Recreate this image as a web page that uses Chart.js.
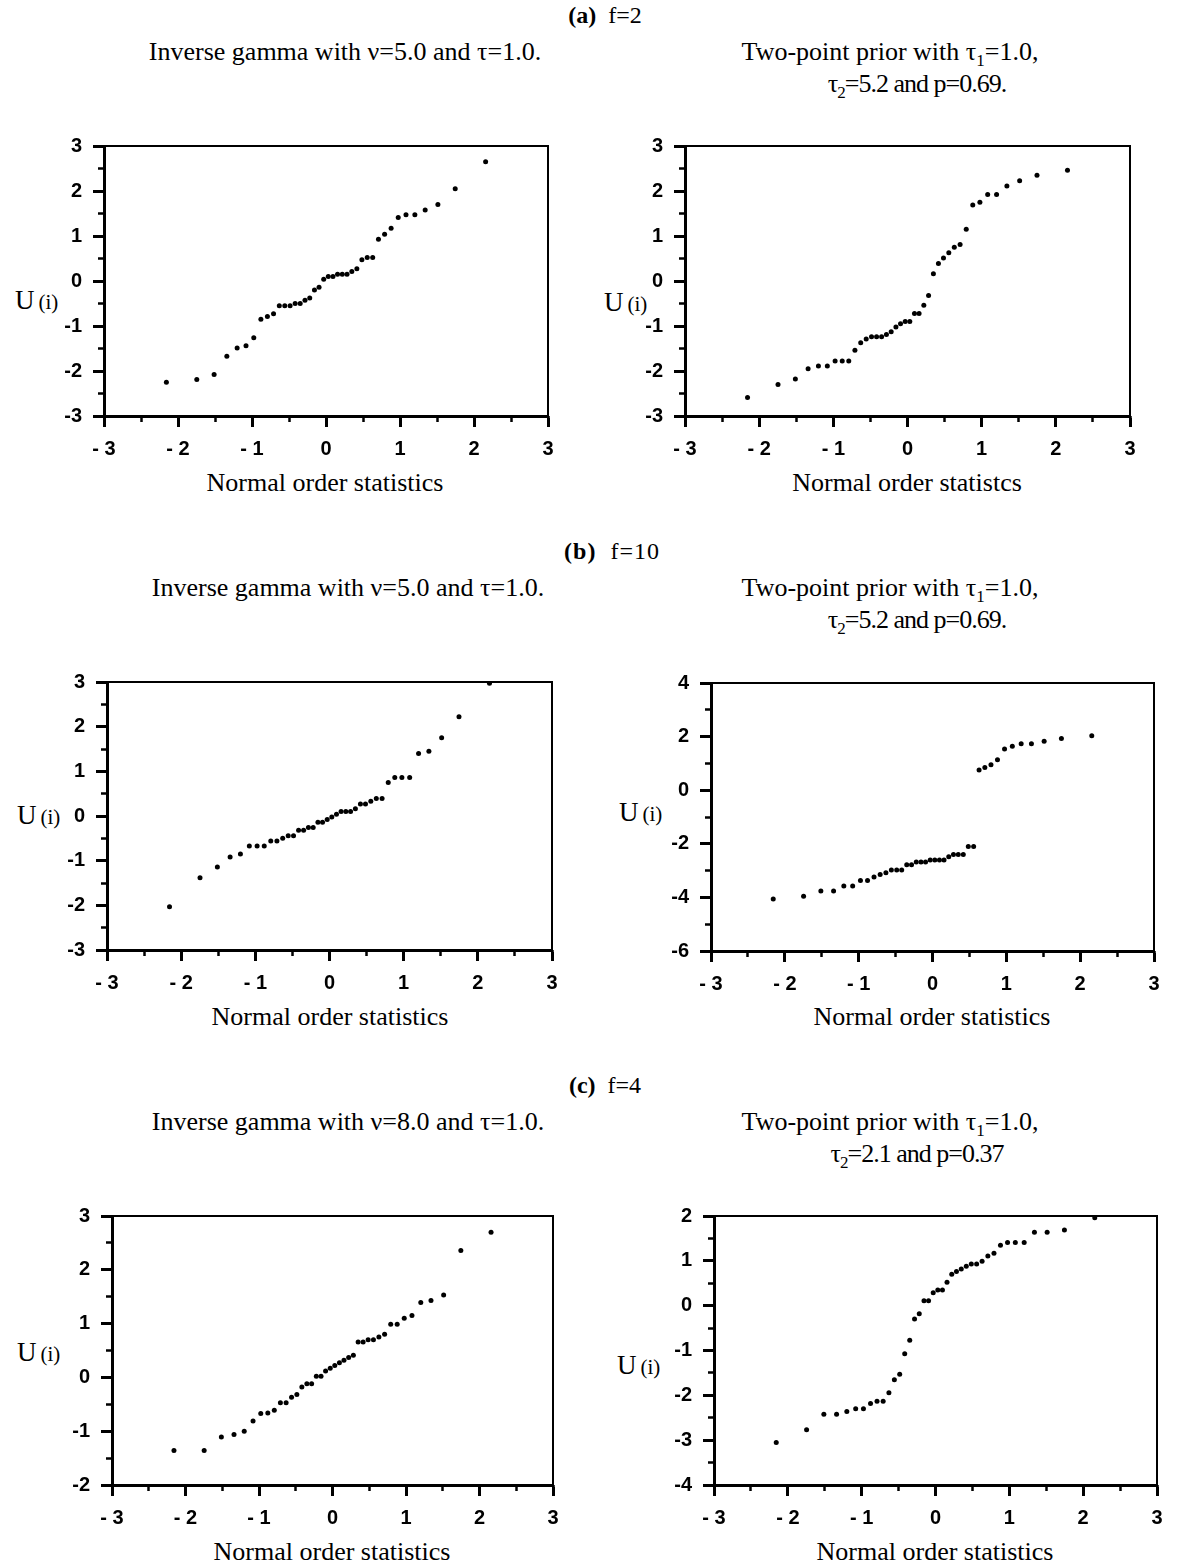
<!DOCTYPE html>
<html><head><meta charset="utf-8">
<script src="https://cdn.jsdelivr.net/npm/chart.js@4.4.1/dist/chart.umd.min.js"></script>
<style>
html,body{margin:0;padding:0;background:#fff;}
body{width:1178px;height:1568px;position:relative;overflow:hidden;}
.t{position:absolute;font-family:"Liberation Serif","Times New Roman",serif;color:#000;white-space:nowrap;font-size:26px;line-height:1;transform:translate(-50%,-50%);}
.t b{font-weight:bold;}
.t sub{font-size:17px;vertical-align:-6px;line-height:0;}
.h{font-size:24px;}
.u{position:absolute;font-family:"Liberation Serif","Times New Roman",serif;color:#000;white-space:nowrap;line-height:1;transform:translate(0,-50%);}
.u .U{font-size:27px;}
.u .i{font-size:21px;}
canvas{position:absolute;}
</style></head><body>

<div class="t h" style="left:605px;top:15px;"><b>(a)</b>&nbsp; f=2</div>
<div class="t" style="left:345px;top:52px;">Inverse gamma with ν=5.0 and τ=1.0.</div>
<div class="t" style="left:890px;top:52px;">Two-point prior with τ<sub>1</sub>=1.0,</div>
<div class="t" style="left:917px;top:84px;letter-spacing:-1px;">τ<sub>2</sub>=5.2 and p=0.69.</div>

<div class="t h" style="left:612px;top:551px;letter-spacing:1px;"><b>(b)</b>&nbsp; f=10</div>
<div class="t" style="left:348px;top:588px;">Inverse gamma with ν=5.0 and τ=1.0.</div>
<div class="t" style="left:890px;top:588px;">Two-point prior with τ<sub>1</sub>=1.0,</div>
<div class="t" style="left:917px;top:620px;letter-spacing:-1px;">τ<sub>2</sub>=5.2 and p=0.69.</div>

<div class="t h" style="left:605px;top:1085px;"><b>(c)</b>&nbsp; f=4</div>
<div class="t" style="left:348px;top:1122px;">Inverse gamma with ν=8.0 and τ=1.0.</div>
<div class="t" style="left:890px;top:1122px;">Two-point prior with τ<sub>1</sub>=1.0,</div>
<div class="t" style="left:917px;top:1154px;letter-spacing:-1px;">τ<sub>2</sub>=2.1 and p=0.37</div>

<div class="t" style="left:325px;top:483px;">Normal order statistics</div>
<div class="t" style="left:907px;top:483px;">Normal order statistcs</div>
<div class="t" style="left:330px;top:1017px;">Normal order statistics</div>
<div class="t" style="left:932px;top:1017px;">Normal order statistics</div>
<div class="t" style="left:332px;top:1552px;">Normal order statistics</div>
<div class="t" style="left:935px;top:1552px;">Normal order statistics</div>

<div class="u" style="left:15px;top:300px;"><span class="U">U</span> <span class="i">(i)</span></div>
<div class="u" style="left:604px;top:302px;"><span class="U">U</span> <span class="i">(i)</span></div>
<div class="u" style="left:17px;top:815px;"><span class="U">U</span> <span class="i">(i)</span></div>
<div class="u" style="left:619px;top:812px;"><span class="U">U</span> <span class="i">(i)</span></div>
<div class="u" style="left:17px;top:1352px;"><span class="U">U</span> <span class="i">(i)</span></div>
<div class="u" style="left:617px;top:1365px;"><span class="U">U</span> <span class="i">(i)</span></div>

<script>
// Normal order statistics (n = 40) shared by all six panels
const normalScores = [-2.157,-1.746,-1.512,-1.340,-1.201,-1.081,-0.976,-0.880,-0.792,-0.709,
  -0.631,-0.557,-0.485,-0.417,-0.349,-0.284,-0.220,-0.156,-0.094,-0.031,
  0.031,0.094,0.156,0.220,0.284,0.349,0.417,0.485,0.557,0.631,
  0.709,0.792,0.880,0.976,1.081,1.201,1.340,1.512,1.746,2.157];

// (a) f=2
const uA_gamma = [-2.25,-2.19,-2.08,-1.67,-1.49,-1.44,-1.26,-0.85,-0.79,-0.73,
  -0.55,-0.55,-0.55,-0.50,-0.50,-0.43,-0.38,-0.20,-0.14,0.04,
  0.10,0.10,0.15,0.15,0.15,0.21,0.27,0.47,0.52,0.52,
  0.93,1.04,1.17,1.41,1.47,1.47,1.58,1.70,2.05,2.65];
const uA_two = [-2.59,-2.30,-2.18,-1.95,-1.89,-1.89,-1.78,-1.78,-1.78,-1.54,
  -1.37,-1.29,-1.24,-1.24,-1.24,-1.19,-1.13,-1.02,-0.95,-0.90,
  -0.90,-0.72,-0.72,-0.54,-0.32,0.16,0.39,0.51,0.63,0.75,
  0.81,1.15,1.69,1.75,1.92,1.92,2.11,2.23,2.35,2.46];

// (b) f=10
const uB_gamma = [-2.03,-1.38,-1.14,-0.92,-0.85,-0.67,-0.67,-0.67,-0.56,-0.56,
  -0.50,-0.44,-0.44,-0.32,-0.32,-0.26,-0.26,-0.14,-0.14,-0.08,
  -0.02,0.04,0.10,0.10,0.10,0.16,0.27,0.27,0.33,0.39,
  0.39,0.75,0.86,0.86,0.86,1.40,1.45,1.75,2.22,2.97];
const uB_two = [-4.06,-3.96,-3.76,-3.76,-3.57,-3.57,-3.37,-3.37,-3.24,-3.15,
  -3.08,-2.98,-2.98,-2.98,-2.78,-2.78,-2.68,-2.68,-2.68,-2.60,
  -2.60,-2.60,-2.60,-2.48,-2.40,-2.40,-2.40,-2.10,-2.10,0.75,
  0.85,0.95,1.14,1.54,1.64,1.73,1.73,1.83,1.93,2.03];

// (c) f=4
const uC_gamma = [-1.36,-1.36,-1.11,-1.06,-1.00,-0.81,-0.67,-0.66,-0.61,-0.47,
  -0.47,-0.37,-0.32,-0.18,-0.12,-0.12,0.02,0.02,0.12,0.17,
  0.22,0.27,0.32,0.37,0.41,0.66,0.66,0.70,0.70,0.75,
  0.80,0.99,0.99,1.10,1.15,1.39,1.43,1.53,2.36,2.70];
const uC_two = [-3.05,-2.77,-2.42,-2.42,-2.36,-2.30,-2.30,-2.18,-2.13,-2.13,
  -1.94,-1.65,-1.53,-1.07,-0.77,-0.30,-0.18,0.11,0.11,0.29,
  0.35,0.35,0.52,0.70,0.76,0.82,0.88,0.93,0.93,0.99,
  1.11,1.17,1.35,1.41,1.41,1.41,1.64,1.64,1.69,1.96];

// axis ranges
const xRange = [-3, 3];
const yRangeA = [-3, 3];
const yRangeB1 = [-3, 3];
const yRangeB2 = [-6, 4];
const yRangeC1 = [-2, 3];
const yRangeC2 = [-4, 2];

// ---------- drawing ----------
const PADL = 80, PADR = 20, PADT = 20, PADB = 60;
const SANS = '"Liberation Sans", Arial, Helvetica, sans-serif';
const isInt = v => Math.abs(v - Math.round(v)) < 1e-6;
const fmtX = v => isInt(v) ? (Math.round(v) < 0 ? '- ' + Math.abs(Math.round(v)) : String(Math.round(v))) : '';
const fmtY = v => isInt(v) ? String(Math.round(v)) : '';

function panel(box, xs, ys, yr, yMajor, yMinor) {
  const W = box.R - box.L + PADL + PADR;
  const H = box.B - box.T + PADT + PADB;
  const cv = document.createElement('canvas');
  cv.width = W; cv.height = H;
  cv.style.left = (box.L - PADL) + 'px';
  cv.style.top = (box.T - PADT) + 'px';
  cv.style.width = W + 'px'; cv.style.height = H + 'px';
  document.body.appendChild(cv);
  const tickFont = {family: SANS, size: 20, weight: 'bold'};
  new Chart(cv.getContext('2d'), {
    type: 'scatter',
    data: {datasets: [{
      data: xs.map((x, i) => ({x: x, y: ys[i]})),
      pointRadius: 2.5, pointHoverRadius: 2.5,
      pointBackgroundColor: '#000', pointBorderWidth: 0, pointBorderColor: '#000'
    }]},
    options: {
      responsive: false, animation: false, devicePixelRatio: 1,
      events: [],
      layout: {padding: {left: 0, top: PADT, right: PADR, bottom: 0}},
      plugins: {legend: {display: false}, tooltip: {enabled: false}, title: {display: false}},
      scales: {
        x: {type: 'linear', position: 'bottom', weight: 1, min: xRange[0], max: xRange[1],
          ticks: {stepSize: 1, autoSkip: false, maxRotation: 0, padding: 10, color: '#000', font: tickFont, callback: fmtX},
          grid: {display: true, drawOnChartArea: false, drawTicks: true, tickLength: 11, tickWidth: 3, tickColor: '#000'},
          border: {display: true, width: 3, color: '#000'},
          afterFit: s => { s.height = PADB; }},
        xMinor: {type: 'linear', position: 'bottom', weight: 0, min: xRange[0], max: xRange[1],
          ticks: {stepSize: 0.5, autoSkip: false, display: false},
          grid: {display: true, drawOnChartArea: false, drawTicks: true, tickLength: 6, tickWidth: 2.5, tickColor: '#000'},
          border: {display: false},
          afterFit: s => { s.height = 0; }},
        xTop: {type: 'linear', position: 'top', min: xRange[0], max: xRange[1],
          ticks: {display: false},
          grid: {display: true, drawOnChartArea: false, drawTicks: false},
          border: {display: true, width: 2, color: '#000'},
          afterFit: s => { s.height = 0; }},
        y: {type: 'linear', position: 'left', weight: 1, min: yr[0], max: yr[1],
          ticks: {stepSize: yMajor, autoSkip: false, padding: 11, color: '#000', font: tickFont, callback: fmtY},
          grid: {display: true, drawOnChartArea: false, drawTicks: true, tickLength: 11, tickWidth: 3, tickColor: '#000'},
          border: {display: true, width: 3, color: '#000'},
          afterFit: s => { s.width = PADL; }},
        yMinor: {type: 'linear', position: 'left', weight: 0, min: yr[0], max: yr[1],
          ticks: {stepSize: yMinor, autoSkip: false, display: false},
          grid: {display: true, drawOnChartArea: false, drawTicks: true, tickLength: 6, tickWidth: 2.5, tickColor: '#000'},
          border: {display: false},
          afterFit: s => { s.width = 0; }},
        yRight: {type: 'linear', position: 'right', min: yr[0], max: yr[1],
          ticks: {display: false},
          grid: {display: true, drawOnChartArea: false, drawTicks: false},
          border: {display: true, width: 2, color: '#000'},
          afterFit: s => { s.width = 0; }}
      }
    }
  });
}

panel({L: 104, T: 143, R: 548, B: 416}, normalScores, uA_gamma, yRangeA, 1, 0.5);
panel({L: 685, T: 143, R: 1130, B: 416}, normalScores, uA_two, yRangeA, 1, 0.5);
panel({L: 107, T: 679, R: 552, B: 950}, normalScores, uB_gamma, yRangeB1, 1, 0.5);
panel({L: 711, T: 680, R: 1154, B: 951}, normalScores, uB_two, yRangeB2, 2, 1);
panel({L: 112, T: 1213, R: 553, B: 1485}, normalScores, uC_gamma, yRangeC1, 1, 0.5);
panel({L: 714, T: 1213, R: 1157, B: 1485}, normalScores, uC_two, yRangeC2, 1, 0.5);
</script>
</body></html>
